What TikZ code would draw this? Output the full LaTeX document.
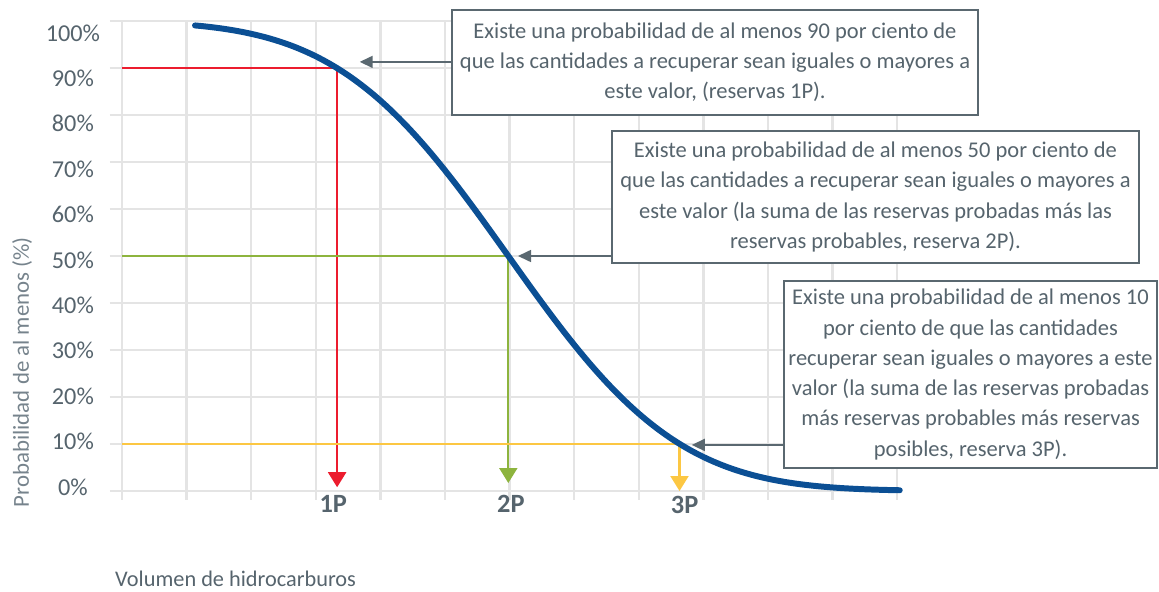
\documentclass[tikz,border=0pt]{standalone}
\usepackage{fontspec}
\setmainfont{Carlito}
\usetikzlibrary{arrows.meta}
\definecolor{txtgray}{HTML}{56646D}
\definecolor{axgray}{HTML}{76838C}
\definecolor{boxgray}{HTML}{5A6870}
\definecolor{gridgray}{HTML}{E4E4E4}
\definecolor{lred}{HTML}{EC1C2E}
\definecolor{lgreen}{HTML}{8DB43E}
\definecolor{lyellow}{HTML}{FCC743}
\definecolor{cblue}{HTML}{0B4F94}
\begin{document}
\begin{tikzpicture}[x=1.292cm, y=0.94cm,
    gridline/.style={draw=gridgray, line width=1.3pt},
    level/.style={line width=1.2pt, -{Triangle[width=0.36cm, length=0.3cm]}},
    callout/.style={draw=boxgray, fill=boxgray, line width=0.9pt, -{Triangle[width=0.24cm, length=0.26cm]}},
    callbox/.style={draw=boxgray, line width=1.4pt, fill=white, inner sep=0pt, align=center, text=txtgray, font=\fontsize{12.8}{17.2}\selectfont},
    tick/.style={text=txtgray, font=\fontsize{13.8}{16}\selectfont},
    plabel/.style={text=txtgray, font=\fontsize{15}{17}\selectfont\bfseries}]
    \useasboundingbox (-1.8885,-2.1277) rectangle (16.0526,10.4468);
    \foreach \i in {0,...,12}
        \draw[gridline] (\i,-0.19) -- (\i,10);
    \foreach \j in {0,...,10}
        \draw[gridline] (-0.19,\j) -- (12,\j);
    \foreach \k/\lab in {0/0,1/10,2/20,3/30,4/40,5/50,6/60,7/70,8/80,9/90,10/100}
        \node[tick] (tk\k) at (-0.76,{0.085+0.966*\k}) {\lab\%};
    \node[rotate=90, text=axgray, font=\fontsize{13}{15}\selectfont] (ylab) at (-1.548,2.53) {Probabilidad de al menos (\%)};
    \node[anchor=west, inner sep=0pt, text=txtgray, font=\fontsize{12.7}{15}\selectfont] (xlab) at (-0.11,-1.87) {Volumen de hidrocarburos};
    \coordinate (c1) at (3.33,9);
    \coordinate (c2) at (5.98,5);
    \coordinate (c3) at (8.63,1);
    \coordinate (e1) at (3.33,0.08);
    \coordinate (e2) at (5.98,0.17);
    \coordinate (e3) at (8.63,0);
    \draw[level, lred] (0,9) -- (c1) -- (e1);
    \draw[level, lgreen] (0,5) -- (c2) -- (e2);
    \draw[level, lyellow] (0,1) -- (c3) -- (e3);
    \node[plabel] (p1) at (3.27,-0.27) {1P};
    \node[plabel] (p2) at (6.02,-0.27) {2P};
    \node[plabel] (p3) at (8.71,-0.3) {3P};
    \draw[cblue, line width=3.4pt, line cap=round] plot[domain=1.13:12.04, samples=120, smooth]
        (\x,{10/(1+exp(1.5976*((\x-5.98)/2.07)+0.070566*((\x-5.98)/2.07)^3))});
    \node[callbox, minimum width=10.52cm, minimum height=2.1cm] (box1) at (9.18,9.117)
        {Existe una probabilidad de al menos 90 por ciento de\\que las cantidades a recuperar sean iguales o mayores a\\este valor, (reservas 1P).};
    \node[callbox, minimum width=10.54cm, minimum height=2.64cm] (box2) at (11.664,6.255)
        {Existe una probabilidad de al menos 50 por ciento de\\que las cantidades a recuperar sean iguales o mayores a\\este valor (la suma de las reservas probadas más las\\reservas probables, reserva 2P).};
    \node[callbox, minimum width=7.46cm, minimum height=3.74cm] (box3) at (13.135,2.479)
        {Existe una probabilidad de al menos 10\\por ciento de que las cantidades\\recuperar sean iguales o mayores a este\\valor (la suma de las reservas probadas\\más reservas probables más reservas\\posibles, reserva 3P).};
    \coordinate (t1) at (3.68,9.13);
    \coordinate (t2) at (6.13,5.0);
    \coordinate (t3) at (8.82,0.98);
    \draw[callout] (box1.west |- t1) -- (t1);
    \draw[callout] (box2.west |- t2) -- (t2);
    \draw[callout] (box3.west |- t3) -- (t3);
\end{tikzpicture}
\end{document}
